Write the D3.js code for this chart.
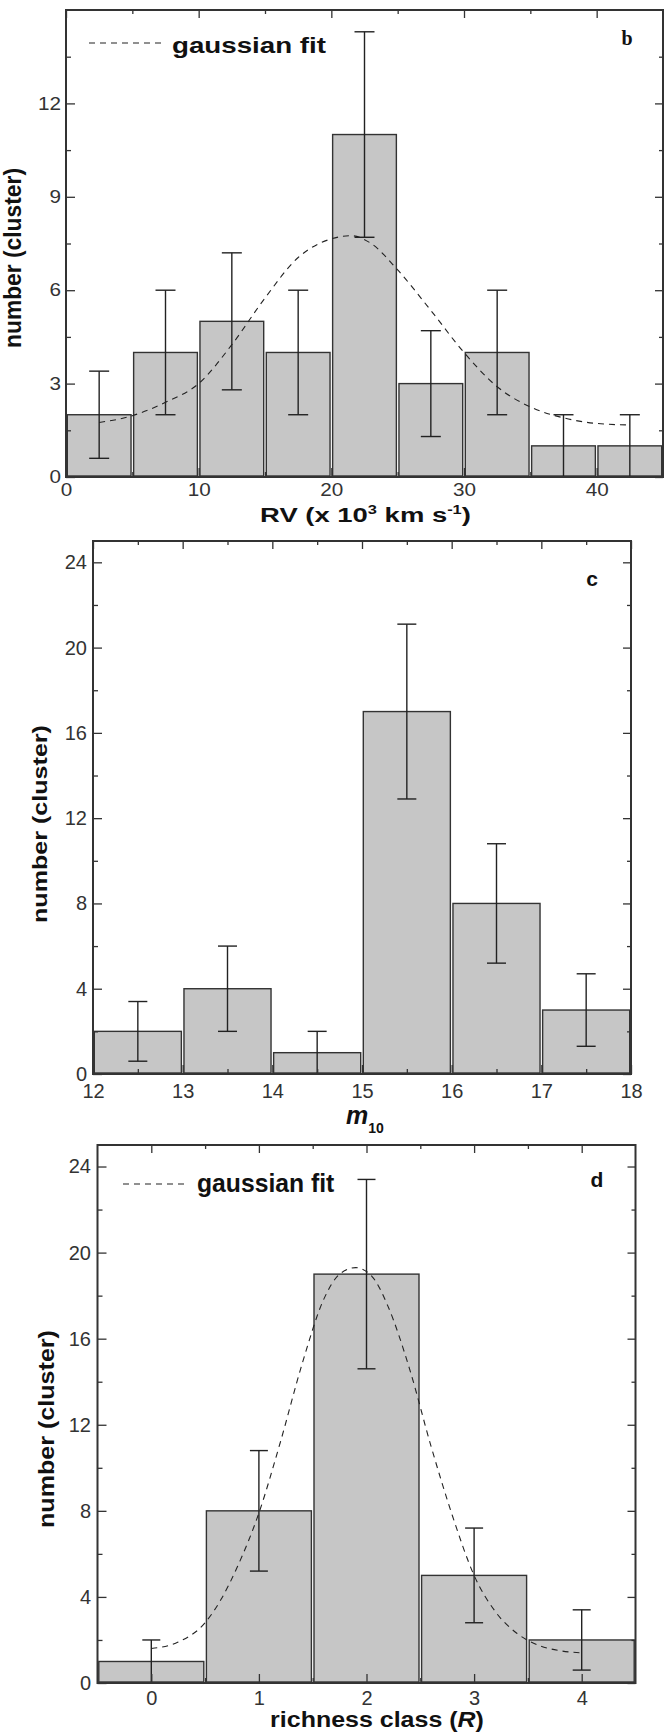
<!DOCTYPE html>
<html>
<head>
<meta charset="utf-8">
<script src="https://cdn.jsdelivr.net/npm/d3@7"></script>
<style>
body { margin: 0; background: #fff; }
</style>
</head>
<body>
<script>
// panel b : radial velocity histogram
var rvCenters = [2.5, 7.5, 12.5, 17.5, 22.5, 27.5, 32.5, 37.5, 42.5];
var rvCounts = [2, 4, 5, 4, 11, 3, 4, 1, 1];
var rvErrors = [1.4, 2, 2.2, 2, 3.3, 1.7, 2, 1, 1];
var rvFitX = [2.5, 5, 7.5, 10, 12.5, 15, 17.5, 20, 21.5, 23, 25, 27.5, 30, 32.5, 35, 37.5, 40, 42.5];
var rvFitY = [1.75, 1.97, 2.4, 3.0, 4.25, 5.75, 7.05, 7.65, 7.75, 7.5, 6.65, 5.35, 4.0, 2.9, 2.25, 1.9, 1.72, 1.67];
var rvTicks = [0, 10, 20, 30, 40];
var rvMinor = [5, 15, 25, 35];
var countTicksB = [0, 3, 6, 9, 12];
var countMinorB = [1.5, 4.5, 7.5, 10.5, 13.5];

// panel c : m10 histogram
var magCenters = [12.5, 13.5, 14.5, 15.5, 16.5, 17.5];
var magCounts = [2, 4, 1, 17, 8, 3];
var magErrors = [1.4, 2, 1, 4.1, 2.8, 1.7];
var magTicks = [12, 13, 14, 15, 16, 17, 18];
var magMinor = [12.5, 13.5, 14.5, 15.5, 16.5, 17.5];

// panel d : richness class
var richClass = [0, 1, 2, 3, 4];
var richCounts = [1, 8, 19, 5, 2];
var richErrors = [1, 2.8, 4.4, 2.2, 1.4];
var richFitX = [0, 0.25, 0.5, 0.65, 0.8, 1.0, 1.2, 1.4, 1.6, 1.75, 1.9, 2.05, 2.2, 2.4, 2.6, 2.8, 3.0, 3.2, 3.4, 3.6, 3.8, 4.0];
var richFitY = [1.6, 1.9, 2.8, 3.9, 5.4, 7.9, 11.2, 14.8, 17.8, 19.0, 19.3, 18.9, 17.5, 14.6, 11.0, 7.75, 5.0, 3.3, 2.3, 1.75, 1.5, 1.4];
var richMinor = [0.5, 1.5, 2.5, 3.5];

var countTicksCD = [0, 4, 8, 12, 16, 20, 24];
var countMinorCD = [2, 6, 10, 14, 18, 22];

var FONT = '"Liberation Sans", Arial, sans-serif';
var INK = '#333';

var svg = d3.select('body').append('svg')
  .attr('width', 664)
  .attr('height', 1733);

// stretch a text to a given width (the original figure is stretched)
function fit(t, x, y, w, rot, thick) {
  var bw = t.node().getBBox().width;
  t.attr('transform', 'translate(' + x + ',' + y + ')' + (rot ? ' rotate(-90)' : '') +
    ' scale(' + (w / bw) + ',' + (thick || 1) + ')');
}

function addAxis(g, axis, tr, vals, size, labels, p) {
  var a = g.append('g')
    .attr('transform', tr)
    .call(axis.tickValues(vals).tickSize(-size).tickPadding(labels ? labels : 3)
      .tickFormat(labels ? d3.format('d') : ''));
  a.select('.domain').remove();
  a.selectAll('line').attr('stroke', INK).attr('stroke-width', 1.3);
  a.selectAll('text')
    .attr('font-family', FONT)
    .attr('font-size', p.tickFont)
    .attr('fill', INK)
    .each(function() {
      var t = d3.select(this);
      var tx = +t.attr('x') || 0, ty = +t.attr('y') || 0;
      t.attr('x', 0).attr('y', 0)
        .attr('transform', 'translate(' + tx + ',' + ty + ') scale(' + p.tickSx + ',1)');
    });
}

function drawPanel(p) {
  var x = d3.scaleLinear().domain(p.xDomain).range([p.left, p.right]);
  var y = d3.scaleLinear().domain([0, p.yMax]).range([p.bottom, p.top]);
  var g = svg.append('g');

  var rows = p.centers.map(function(c, i) {
    return { c: c, v: p.counts[i], e: p.errors[i] };
  });

  g.selectAll('rect.bar').data(rows).enter().append('rect')
    .attr('class', 'bar')
    .attr('x', function(d) { return x(d.c - p.binW / 2) + 1.3; })
    .attr('y', function(d) { return y(d.v); })
    .attr('width', function(d) { return x(d.c + p.binW / 2) - x(d.c - p.binW / 2) - 2.6; })
    .attr('height', function(d) { return y(0) - y(d.v) - 1; })
    .attr('fill', '#c6c6c6')
    .attr('stroke', INK)
    .attr('stroke-width', 1.4);

  if (p.fitX) {
    var pts = p.fitX.map(function(v, i) { return [v, p.fitY[i]]; });
    g.append('path')
      .attr('d', d3.line()
        .x(function(d) { return x(d[0]); })
        .y(function(d) { return y(d[1]); })
        .curve(d3.curveMonotoneX)(pts))
      .attr('fill', 'none')
      .attr('stroke', '#222')
      .attr('stroke-width', 1.1)
      .attr('stroke-dasharray', '6,5');
  }

  // error bars
  var eb = g.selectAll('g.err').data(rows).enter().append('g').attr('class', 'err');
  eb.append('line')
    .attr('x1', function(d) { return x(d.c); })
    .attr('x2', function(d) { return x(d.c); })
    .attr('y1', function(d) { return y(d.v - d.e); })
    .attr('y2', function(d) { return y(d.v + d.e); });
  eb.append('line')
    .attr('x1', function(d) { return x(d.c) - p.cap / 2; })
    .attr('x2', function(d) { return x(d.c) + p.cap / 2; })
    .attr('y1', function(d) { return y(d.v + d.e); })
    .attr('y2', function(d) { return y(d.v + d.e); });
  eb.append('line')
    .attr('x1', function(d) { return x(d.c) - p.cap / 2; })
    .attr('x2', function(d) { return x(d.c) + p.cap / 2; })
    .attr('y1', function(d) { return y(d.v - d.e); })
    .attr('y2', function(d) { return y(d.v - d.e); });
  eb.selectAll('line').attr('stroke', '#222').attr('stroke-width', 1.4);

  // inward ticks on all four sides
  addAxis(g, d3.axisBottom(x), 'translate(0,' + p.bottom + ')', p.xTicks, 9, p.xPad, p);
  addAxis(g, d3.axisBottom(x), 'translate(0,' + p.bottom + ')', p.xMinor, 5, 0, p);
  addAxis(g, d3.axisTop(x), 'translate(0,' + p.top + ')', p.xTicks, 8, 0, p);
  addAxis(g, d3.axisTop(x), 'translate(0,' + p.top + ')', p.xMinor, 4, 0, p);
  addAxis(g, d3.axisLeft(y), 'translate(' + p.left + ',0)', p.yTicks, 9, p.yPad, p);
  addAxis(g, d3.axisLeft(y), 'translate(' + p.left + ',0)', p.yMinor, 5, 0, p);
  addAxis(g, d3.axisRight(y), 'translate(' + p.right + ',0)', p.yTicks, 8, 0, p);
  addAxis(g, d3.axisRight(y), 'translate(' + p.right + ',0)', p.yMinor, 4, 0, p);

  g.append('rect')
    .attr('x', p.left).attr('y', p.top)
    .attr('width', p.right - p.left).attr('height', p.bottom - p.top)
    .attr('fill', 'none').attr('stroke', INK).attr('stroke-width', 2);

  // y title
  var yt = g.append('text')
    .attr('text-anchor', 'middle')
    .attr('font-family', FONT).attr('font-weight', 'bold').attr('font-size', 21)
    .attr('fill', '#111')
    .text('number (cluster)');
  fit(yt, p.yTitle[0], p.yTitle[1], p.yTitle[2], true, p.yTitle[3]);

  // panel letter
  g.append('text')
    .attr('x', p.letter[0]).attr('y', p.letter[1])
    .attr('text-anchor', 'middle')
    .attr('font-family', p.letterFont || FONT).attr('font-weight', 'bold').attr('font-size', p.letter[2])
    .attr('fill', '#111')
    .text(p.name);

  // legend
  if (p.legend) {
    var L = p.legend;
    g.append('line')
      .attr('x1', L.x1).attr('x2', L.x2).attr('y1', L.y).attr('y2', L.y)
      .attr('stroke', '#222').attr('stroke-width', 1.1).attr('stroke-dasharray', '6,5');
    var lt = g.append('text')
      .attr('font-family', FONT).attr('font-weight', 'bold').attr('font-size', L.font)
      .attr('fill', '#111')
      .text('gaussian fit');
    fit(lt, L.tx, L.ty, L.tw, false);
  }
  return g;
}

// b
var gb = drawPanel({
  name: 'b', centers: rvCenters, counts: rvCounts, errors: rvErrors, binW: 5,
  fitX: rvFitX, fitY: rvFitY,
  xDomain: [0, 45], yMax: 15,
  left: 66, right: 663, top: 10, bottom: 477,
  xTicks: rvTicks, xMinor: rvMinor, yTicks: countTicksB, yMinor: countMinorB,
  tickFont: 18, tickSx: 1.15, xPad: 6, yPad: 5, cap: 20,
  yTitle: [21, 258, 180, 1.15], letter: [627, 45, 20],
  letterFont: '"Liberation Serif", "Times New Roman", serif',
  legend: { x1: 89, x2: 163, y: 43, tx: 172, ty: 53, tw: 155, font: 22 }
});
var xb = gb.append('text')
  .attr('text-anchor', 'middle')
  .attr('font-family', FONT).attr('font-weight', 'bold').attr('font-size', 20)
  .attr('fill', '#111');
xb.append('tspan').text('RV (x 10');
xb.append('tspan').attr('dy', -8).attr('font-size', 12).text('3');
xb.append('tspan').attr('dy', 8).text(' km s');
xb.append('tspan').attr('dy', -8).attr('font-size', 12).text('-1');
xb.append('tspan').attr('dy', 8).text(')');
fit(xb, 365.5, 522, 211, false);

// c
var gc = drawPanel({
  name: 'c', centers: magCenters, counts: magCounts, errors: magErrors, binW: 1,
  xDomain: [12, 18], yMax: 25,
  left: 93, right: 631, top: 541, bottom: 1074,
  xTicks: magTicks, xMinor: magMinor, yTicks: countTicksCD, yMinor: countMinorCD,
  tickFont: 20, tickSx: 1.0, xPad: 10, yPad: 6, cap: 19,
  yTitle: [47, 824, 198, 1.0], letter: [592, 586, 21]
});
var xc = gc.append('text')
  .attr('x', 365).attr('y', 1124)
  .attr('text-anchor', 'middle')
  .attr('font-family', FONT).attr('font-weight', 'bold').attr('font-size', 25)
  .attr('fill', '#111');
xc.append('tspan').attr('font-style', 'italic').text('m');
xc.append('tspan').attr('dy', 9).attr('font-size', 14).text('10');

// d
var gd = drawPanel({
  name: 'd', centers: richClass, counts: richCounts, errors: richErrors, binW: 1,
  fitX: richFitX, fitY: richFitY,
  xDomain: [-0.5, 4.5], yMax: 25,
  left: 97.5, right: 635.5, top: 1145, bottom: 1683,
  xTicks: richClass, xMinor: richMinor, yTicks: countTicksCD, yMinor: countMinorCD,
  tickFont: 20, tickSx: 1.0, xPad: 8, yPad: 6.5, cap: 18,
  yTitle: [54, 1429, 198, 1.08], letter: [597, 1187, 21],
  legend: { x1: 123, x2: 186, y: 1184, tx: 197, ty: 1192, tw: 138, font: 25 }
});
var xd = gd.append('text')
  .attr('text-anchor', 'middle')
  .attr('font-family', FONT).attr('font-weight', 'bold').attr('font-size', 22)
  .attr('fill', '#111');
xd.append('tspan').text('richness class (');
xd.append('tspan').attr('font-style', 'italic').text('R');
xd.append('tspan').text(')');
fit(xd, 377, 1727, 214, false);
</script>
</body>
</html>
